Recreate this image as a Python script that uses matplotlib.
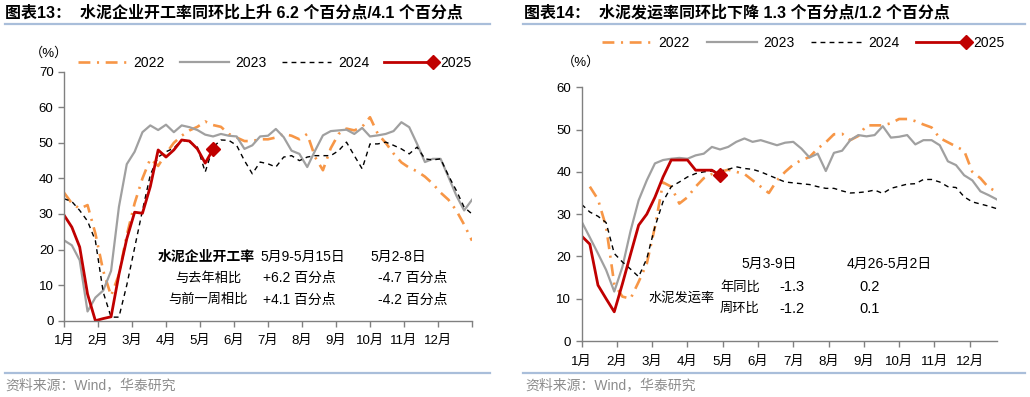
import numpy as np
import matplotlib
matplotlib.use("Agg")
import matplotlib.pyplot as plt
from matplotlib.lines import Line2D
from matplotlib.legend_handler import HandlerLine2D

plt.rcParams['font.family'] = ['Liberation Sans', 'Noto Sans CJK SC']
plt.rcParams['axes.unicode_minus'] = False

# ---------------- data ----------------
months = ['1月', '2月', '3月', '4月', '5月', '6月', '7月', '8月', '9月', '10月', '11月', '12月']
years = ['2022', '2023', '2024', '2025']

# 图表13 水泥企业开工率 (%), weekly
kiln_2022 = [36, 33, 31.5, 32.5, 24.5, 14, 7, 13, 24, 33, 40, 45.5, 43.5, 47, 50, 52, 53.5,
             54.5, 56, 55, 54.5, 52.5, 51.5, 50.5, 50.5, 51, 51, 51.5, 52.5, 52, 51, 52.5, 46,
             42.3, 48.5, 52.5, 54, 53.5, 54.5, 57.2, 52.5, 50, 47, 44.5, 43, 42, 40.5, 38.5,
             36, 34, 31, 27, 22.5]
kiln_2023 = [22.6, 21.2, 17, 2.6, 6.5, 8.5, 14, 32, 44, 47.5, 53, 54.9, 53.6, 55.1, 53, 54.9,
             54.4, 53.6, 52.3, 51.8, 52.5, 52, 51.8, 48.3, 49.3, 51.8, 52, 53.9, 51.6, 47.8,
             46.9, 43.2, 47.8, 52.1, 53.3, 53.5, 53.7, 52.5, 54.2, 51.8, 52.1, 52.5, 53.3,
             55.8, 54.4, 49.7, 44.6, 45.5, 45.5, 40.4, 35.2, 31, 34]
kiln_2024 = [34.3, 33.5, 31, 28, 22.5, 8, 1, 1, 10, 20.5, 31, 41, 46, 47.5, 48.5, 50.8, 50.2,
             48.8, 41.8, 48.8, 50.8, 50.7, 49.3, 45, 41.3, 44.6, 44.1, 43.2, 46, 46.4, 45, 46,
             46.4, 46.4, 46.4, 47.8, 50.2, 46.4, 42.7, 49.7, 49.7, 50.2, 49.3, 48.3, 46.9, 48.8,
             45.5, 45.2, 45.5, 40.8, 36.6, 31.9, 30]
kiln_2025 = [29.7, 26.3, 20.7, 7.5, 0, 0.6, 1.1, 13, 23, 30.5, 30.2, 37.7, 48, 46, 48, 50.8,
             50.5, 48.3, 44.3, 48.2]

# 图表14 水泥发运率 (%), weekly (2022 starts in week 2)
ship_2022 = [36.5, 33.5, 27, 13.5, 10.5, 10, 14, 18.3, 27, 37.5, 36.5, 32.5, 34, 36.5, 38.5,
             39.5, 40, 40.5, 40, 39.5, 38, 36.5, 35, 38, 40, 41.7, 42.8, 43.5, 45.5, 47, 48.9,
             49, 47.5, 48.5, 51, 51, 51, 51.5, 52.5, 52.5, 52, 51.2, 50.5, 48, 47, 46, 45, 40,
             38.5, 36.3, 35.3]
ship_2023 = [28.2, 24.5, 20.7, 16.8, 11.7, 17.5, 26, 33.3, 38, 42, 42.8, 43.1, 43.3, 43.1,
             43.9, 44.3, 45.9, 45.3, 45.9, 47.1, 47.9, 47.1, 47.5, 46.9, 46.3, 46.9, 47.1,
             45.5, 43.4, 44.3, 40.2, 44.5, 45, 47.5, 48.7, 48.4, 48.7, 50.8, 48.1, 48.3, 48.7,
             46.5, 47.5, 47.5, 46.3, 42.5, 41.6, 39.2, 38, 35.4, 34.5, 33.5]
ship_2024 = [32.3, 30.5, 29.5, 28, 20.7, 18.7, 17, 15.2, 19.5, 27, 33, 36.5, 37.6, 38.8, 39.6,
             40, 40.2, 40.2, 40.6, 41.2, 40.8, 40.6, 40, 39.2, 38.4, 37.6, 37.4, 37.2, 37,
             36.5, 36.1, 36.1, 35.5, 35, 35.1, 35.3, 35.7, 34.9, 36.1, 36.6, 37.1, 37.2, 38.2,
             38.2, 37.6, 36.5, 36.3, 34.1, 32.9, 32.4, 31.9, 31.3]
ship_2025 = [24.8, 22.9, 13.2, 10, 6.9, 13.5, 20.5, 27.4, 30, 34, 38.8, 42.8, 42.8, 42.8,
             40.4, 40.4, 40.4, 39.2]

kiln_table = [['水泥企业开工率', '5月9-5月15日', '5月2-8日'],
              ['与去年相比', '+6.2 百分点', '-4.7 百分点'],
              ['与前一周相比', '+4.1 百分点', '-4.2 百分点']]
ship_head = ['5月3-9日', '4月26-5月2日']
ship_rows = [['年同比', '-1.3', '0.2'], ['周环比', '-1.2', '0.1']]

C22, C23, C24, C25 = '#F79646', '#A0A0A0', '#000000', '#C00000'
AXC = '#808080'
BLUE = '#A9BEDA'


class EndMarker(HandlerLine2D):
    # legend line with the marker on its right end
    def create_artists(self, *args, **kwargs):
        arts = super().create_artists(*args, **kwargs)
        for a in arts:
            a.set_markevery([-1])
        return arts


def draw_lines(ax, series):
    hs = []
    for (xs, ys), c, name in zip(series, [C22, C23, C24, C25], years):
        if name == '2022':
            h, = ax.plot(xs, ys, color=c, lw=1.9, dashes=(4.5, 2.5, 0.8, 2.5))
        elif name == '2023':
            h, = ax.plot(xs, ys, color=c, lw=1.6)
        elif name == '2024':
            h, = ax.plot(xs, ys, color=c, lw=1.0, dashes=(3.5, 3))
        else:
            h, = ax.plot(xs, ys, color=c, lw=2.0, marker='D', ms=7, markevery=[len(ys) - 1])
        hs.append(h)
    return hs


def style_axes(ax, xmax, ymax, step, xpad):
    for s in ['top', 'right']:
        ax.spines[s].set_visible(False)
    for s in ['left', 'bottom']:
        ax.spines[s].set_color(AXC)
        ax.spines[s].set_linewidth(1.0)
    ax.set_xlim(0, xmax)
    ax.set_ylim(0, ymax)
    ax.set_yticks(np.arange(0, ymax + 1, step))
    ax.tick_params(axis='both', colors=AXC, labelcolor='black', labelsize=9.5,
                   direction='out', length=4, width=1)
    ax.tick_params(axis='x', pad=xpad)


fig = plt.figure(figsize=(10.3, 3.97), dpi=100)

# ---------------- left: 图表13 ----------------
axl = fig.add_axes([64 / 1030, 1 - 320.7 / 397, 408 / 1030, 249 / 397])
wk_l = np.arange(53)
hl = draw_lines(axl, [(wk_l, kiln_2022), (wk_l, kiln_2023), (wk_l, kiln_2024),
                      (wk_l[:len(kiln_2025)], kiln_2025)])
style_axes(axl, 52, 70, 10, 6)
axl.set_xticks(np.arange(13) * 52 / 12)
axl.set_xticklabels(months + [''])
axl.legend(hl, years, loc='center', bbox_to_anchor=(0.2665, 1 - 63 / 397),
           bbox_transform=fig.transFigure, ncol=4, frameon=False, fontsize=10,
           handlelength=3.5, handletextpad=0.5, columnspacing=1.1,
           handler_map={hl[3]: EndMarker()})
fig.text(30 / 1030, 1 - 53 / 397, '（%）', fontsize=9.5, va='center')

rows_y = [257, 278, 300]
for i, (r, yy) in enumerate(zip(kiln_table, rows_y)):
    yf = 1 - yy / 397
    if i == 0:
        fig.text(158 / 1030, yf, r[0], fontsize=10, fontweight='bold', va='center')
        fig.text(260 / 1030, yf, r[1], fontsize=10, va='center')
        fig.text(370 / 1030, yf, r[2], fontsize=10, va='center')
    else:
        fig.text(208 / 1030, yf, r[0], fontsize=9.5, va='center', ha='center')
        fig.text(263 / 1030, yf, r[1], fontsize=10, va='center')
        fig.text(378 / 1030, yf, r[2], fontsize=10, va='center')

# ---------------- right: 图表14 ----------------
axr = fig.add_axes([581.7 / 1030, 1 - 341 / 397, 415 / 1030, 253.7 / 397])
wk_r = np.arange(52)
hr = draw_lines(axr, [(wk_r[1:1 + len(ship_2022)], ship_2022), (wk_r, ship_2023),
                      (wk_r, ship_2024), (wk_r[:len(ship_2025)], ship_2025)])
style_axes(axr, 51, 60, 10, 7)
axr.set_xticks(np.arange(12) * 52 / 12)
axr.set_xticklabels(months)
axr.legend(hr, years, loc='center', bbox_to_anchor=(0.7796, 1 - 43 / 397),
           bbox_transform=fig.transFigure, ncol=4, frameon=False, fontsize=10,
           handlelength=3.6, handletextpad=0.5, columnspacing=1.2,
           handler_map={hr[3]: EndMarker()})
fig.text(562 / 1030, 1 - 62 / 397, '（%）', fontsize=9.5, va='center')

fig.text(769 / 1030, 1 - 264 / 397, ship_head[0], fontsize=10, va='center', ha='center')
fig.text(889 / 1030, 1 - 264 / 397, ship_head[1], fontsize=10, va='center', ha='center')
fig.text(648 / 1030, 1 - 298 / 397, '水泥发运率', fontsize=9.5, va='center')
for r, yy in zip(ship_rows, [287, 309]):
    yf = 1 - yy / 397
    fig.text(720 / 1030, yf, r[0], fontsize=9.5, va='center')
    fig.text(792 / 1030, yf, r[1], fontsize=10.5, va='center', ha='center')
    fig.text(870 / 1030, yf, r[2], fontsize=10.5, va='center', ha='center')

# ---------------- titles, rules, sources ----------------
fig.text(5 / 1030, 1 - 13 / 397, '图表13：  水泥企业开工率同环比上升 6.2 个百分点/4.1 个百分点',
         fontsize=11.5, fontweight='bold', va='center')
fig.text(524 / 1030, 1 - 13 / 397, '图表14：  水泥发运率同环比下降 1.3 个百分点/1.2 个百分点',
         fontsize=11.5, fontweight='bold', va='center')
for x0, x1, y in [(5, 490, 24), (523, 1025, 23.5), (5, 490, 372.5), (523, 1025, 372.5)]:
    fig.add_artist(Line2D([x0 / 1030, x1 / 1030], [1 - y / 397, 1 - y / 397],
                          transform=fig.transFigure, color=BLUE, lw=1.6))
fig.text(5 / 1030, 1 - 385 / 397, '资料来源：Wind，华泰研究', fontsize=10, color='#8C8C8C', va='center')
fig.text(525 / 1030, 1 - 385 / 397, '资料来源：Wind，华泰研究', fontsize=10, color='#8C8C8C', va='center')

fig.savefig('out.png', dpi=100)
